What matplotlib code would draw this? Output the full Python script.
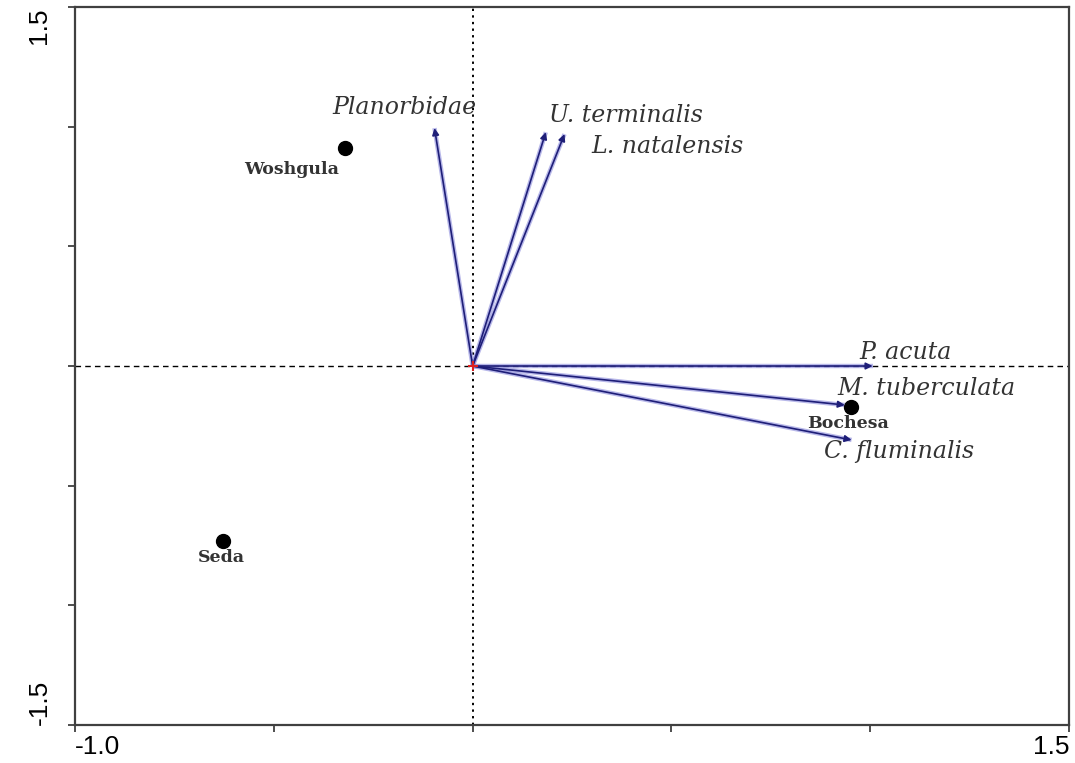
import numpy as np
import matplotlib
matplotlib.use('Agg')
import matplotlib.pyplot as plt

# species arrows (biplot scores)
species = ['Planorbidae', 'U. terminalis', 'L. natalensis', 'P. acuta', 'M. tuberculata', 'C. fluminalis']
sp_x = [-0.096, 0.184, 0.231, 1.006, 0.936, 0.953]
sp_y = [0.994, 0.977, 0.969, 0.0, -0.163, -0.309]

# sites
sites = ['Woshgula', 'Bochesa', 'Seda']
site_x = [-0.322, 0.951, -0.629]
site_y = [0.911, -0.171, -0.731]

# label offsets in pixels from the tip / point
sp_off = [(-30, 21), (80, 17), (103, -12), (33, 14), (82, 17), (47, -12)]
site_off = [(-53, -22), (-3, -17), (-1, -17)]

fig = plt.figure(figsize=(10.75, 7.63), dpi=100)
ax = fig.add_axes([0.0698, 0.0498, 0.9247, 0.941])

ax.axhline(0, color='black', lw=1.0, ls=(0, (4, 3)), zorder=1)
ax.axvline(0, color='black', lw=1.4, ls=(0, (1.2, 2.2)), zorder=1)

for name, x, y, off in zip(species, sp_x, sp_y, sp_off):
    ax.plot([0, x], [0, y], color='#9a9ae0', lw=3.2, alpha=0.7, zorder=2,
            solid_capstyle='butt')
    ax.annotate('', xy=(x, y), xytext=(0, 0),
                arrowprops=dict(arrowstyle='-|>', color='#1e1e78', lw=1.2,
                                mutation_scale=10, shrinkA=0, shrinkB=0),
                zorder=3)
    ax.annotate(name, xy=(x, y), xytext=off, textcoords='offset pixels',
                ha='center', va='center', fontsize=17, style='italic',
                family='DejaVu Serif', color='#333333')

ax.plot([0], [0], marker='+', color='#dd2222', ms=7, mew=1.5, zorder=4)

ax.plot(site_x, site_y, 'o', color='black', ms=10, zorder=5)
for name, x, y, off in zip(sites, site_x, site_y, site_off):
    ax.annotate(name, xy=(x, y), xytext=off, textcoords='offset pixels',
                ha='center', va='center', fontsize=12.5, family='DejaVu Serif',
                weight='bold', color='#333333')

ax.set_xlim(-1.0, 1.5)
ax.set_ylim(-1.5, 1.5)

xt = np.arange(-1.0, 1.51, 0.5)
yt = np.arange(-1.5, 1.51, 0.5)
ax.set_xticks(xt)
ax.set_yticks(yt)
ax.set_xticklabels(['-1.0', '', '', '', '', '1.5'], fontsize=19, family='Liberation Sans')
ax.set_yticklabels(['-1.5', '', '', '', '', '', '1.5'], fontsize=19,
                   family='Liberation Sans', rotation=90)
xl = ax.get_xticklabels()
xl[0].set_ha('left')
xl[-1].set_ha('right')
yl = ax.get_yticklabels()
yl[0].set_va('bottom')
yl[-1].set_va('top')

ax.tick_params(axis='both', direction='out', length=5, width=1.3, color='#404040')
ax.tick_params(axis='x', pad=2)
ax.tick_params(axis='y', pad=12)
for s in ax.spines.values():
    s.set_color('#404040')
    s.set_linewidth(1.6)

fig.savefig('out.png', dpi=100)
